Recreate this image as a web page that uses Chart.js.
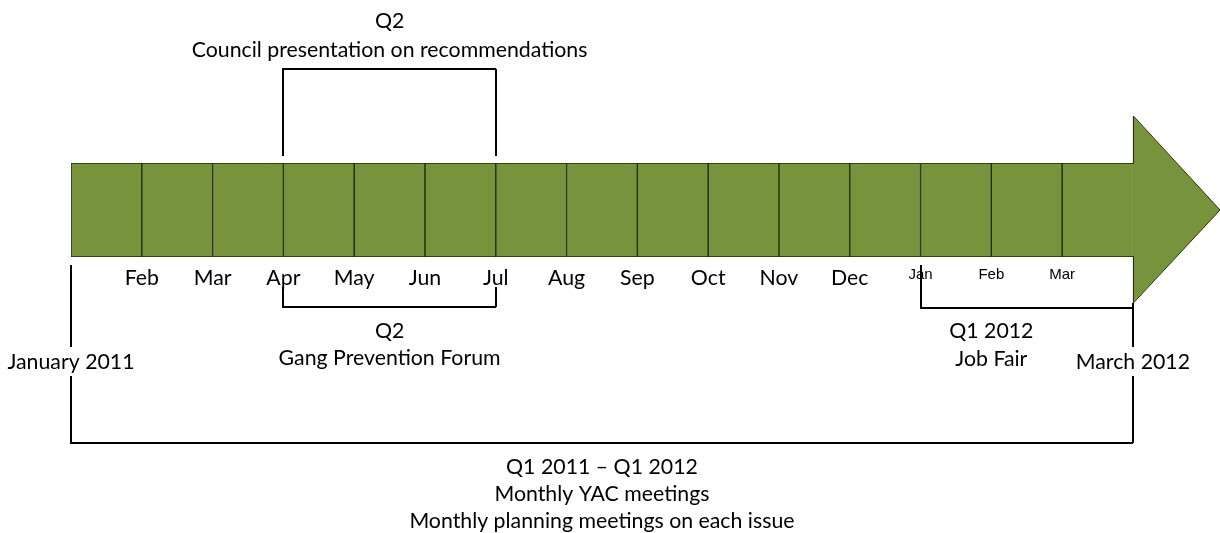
<!DOCTYPE html>
<html>
<head>
<meta charset="utf-8">
<script src="https://cdn.jsdelivr.net/npm/chart.js@4"></script>
<style>
  html, body { margin: 0; padding: 0; background: #fff; }
  canvas { display: block; }
</style>
</head>
<body>
<canvas id="timeline" width="1220" height="533"></canvas>
<script>
// months on the strip, Jan 2011 .. Mar 2012 (one cell each)
const months = ['Jan', 'Feb', 'Mar', 'Apr', 'May', 'Jun', 'Jul', 'Aug', 'Sep', 'Oct', 'Nov', 'Dec', 'Jan', 'Feb', 'Mar'];
const monthYears = [2011, 2011, 2011, 2011, 2011, 2011, 2011, 2011, 2011, 2011, 2011, 2011, 2012, 2012, 2012];

// brackets: month index where they start / end and where the text is centred
const eventLines = [
  ['Q2', 'Council presentation on recommendations'],
  ['Q2', 'Gang Prevention Forum'],
  ['Q1 2012', 'Job Fair'],
  ['Q1 2011 \u2013 Q1 2012', 'Monthly YAC meetings', 'Monthly planning meetings on each issue']
];
const eventStart = [3, 3, 12, 0];
const eventEnd = [6, 6, 15, 15];
const eventTextAt = [4.5, 4.5, 13, 7.5];

const endLabels = ['January 2011', 'March 2012'];
const endLabelAt = [0, 15];

// ---- layout only (pixels) ----
const BAR_TOP = 163, BAR_BOTTOM = 257;
const HEAD_TOP = 116, HEAD_BOTTOM = 303;
const TIP_EXTRA = 1.23; // arrow head length, in months
const GREEN = '#77933C';
const OUTLINE = '#1e2a0e';
const FONT = '21.3px Lato, "Open Sans", sans-serif';
const SMALL_FONT = '15px "Liberation Sans", Arial, sans-serif';

const bracketLayout = [
  { line: 69, left: [156, 69], right: [156, 69], text: [28, 57] },
  { line: 307, left: [287, 307], right: [287, 307], text: [338, 365] },
  { line: 308, left: [265, 308], right: null, text: [338, 366] },
  { line: 443, left: [265, 443], right: [303, 443], text: [474, 501, 528] }
];
const END_LABEL_Y = 369;

const arrowHead = {
  id: 'arrowHead',
  afterDatasetsDraw(chart) {
    const { ctx, scales: { x } } = chart;
    const base = x.getPixelForValue(months.length);
    const tip = x.getPixelForValue(months.length + TIP_EXTRA);
    const mid = (BAR_TOP + BAR_BOTTOM) / 2;
    ctx.save();
    ctx.beginPath();
    ctx.moveTo(base, BAR_TOP);
    ctx.lineTo(base, HEAD_TOP);
    ctx.lineTo(tip, mid);
    ctx.lineTo(base, HEAD_BOTTOM);
    ctx.lineTo(base, BAR_BOTTOM);
    ctx.closePath();
    ctx.fillStyle = GREEN;
    ctx.fill();
    ctx.beginPath();
    ctx.moveTo(base - 1, BAR_TOP + 0.5);
    ctx.lineTo(base + 0.5, BAR_TOP + 0.5);
    ctx.lineTo(base + 0.5, HEAD_TOP);
    ctx.lineTo(tip, mid);
    ctx.lineTo(base + 0.5, HEAD_BOTTOM);
    ctx.lineTo(base + 0.5, BAR_BOTTOM - 0.5);
    ctx.lineTo(base - 1, BAR_BOTTOM - 0.5);
    ctx.strokeStyle = OUTLINE;
    ctx.lineWidth = 1;
    ctx.stroke();
    ctx.restore();
  }
};

const annotations = {
  id: 'annotations',
  afterDraw(chart) {
    const { ctx, scales: { x } } = chart;
    ctx.save();
    ctx.fillStyle = '#000';
    ctx.textAlign = 'center';
    ctx.textBaseline = 'alphabetic';

    // month labels under the strip (first Jan is covered by "January 2011")
    months.forEach((m, i) => {
      if (i === 0) return;
      const small = monthYears[i] === 2012;
      ctx.font = small ? SMALL_FONT : FONT;
      ctx.fillText(m, x.getPixelForValue(i), small ? 279 : 285);
    });

    // brackets
    ctx.strokeStyle = '#000';
    ctx.lineWidth = 2;
    eventLines.forEach((lines, k) => {
      const lay = bracketLayout[k];
      const x0 = Math.round(x.getPixelForValue(eventStart[k]));
      const x1 = Math.round(x.getPixelForValue(eventEnd[k]));
      ctx.beginPath();
      ctx.moveTo(x0, lay.left[0]);
      ctx.lineTo(x0, lay.line);
      ctx.lineTo(x1, lay.line);
      if (lay.right) {
        ctx.moveTo(x1, lay.line);
        ctx.lineTo(x1, lay.right[0]);
      }
      ctx.stroke();
      ctx.font = FONT;
      const tx = x.getPixelForValue(eventTextAt[k]);
      lines.forEach((t, j) => ctx.fillText(t, tx, lay.text[j]));
    });

    // start / end labels sit on the long bracket legs
    ctx.font = FONT;
    endLabels.forEach((t, i) => {
      const cx = x.getPixelForValue(endLabelAt[i]);
      const w = ctx.measureText(t).width;
      ctx.fillStyle = '#fff';
      ctx.fillRect(cx - w / 2 - 2, END_LABEL_Y - 22, w + 4, 29);
      ctx.fillStyle = '#000';
      ctx.fillText(t, cx, END_LABEL_Y);
    });
    ctx.restore();
  }
};

new Chart(document.getElementById('timeline'), {
  type: 'bar',
  data: {
    labels: ['2011\u20132012'],
    datasets: months.map((m, i) => ({
      label: m + ' ' + monthYears[i],
      data: [[i, i + 1]],
      grouped: false,
      backgroundColor: GREEN,
      borderColor: OUTLINE,
      borderWidth: 1,
      borderSkipped: i === months.length - 1 ? 'right' : false,
      barPercentage: 1,
      categoryPercentage: 1
    }))
  },
  options: {
    indexAxis: 'y',
    responsive: false,
    animation: false,
    layout: { padding: { left: 71, right: 0, top: BAR_TOP, bottom: 533 - BAR_BOTTOM } },
    scales: {
      x: { type: 'linear', min: 0, max: months.length + TIP_EXTRA, display: false },
      y: { display: false }
    },
    plugins: { legend: { display: false }, tooltip: { enabled: false } }
  },
  plugins: [arrowHead, annotations]
});
</script>
</body>
</html>
